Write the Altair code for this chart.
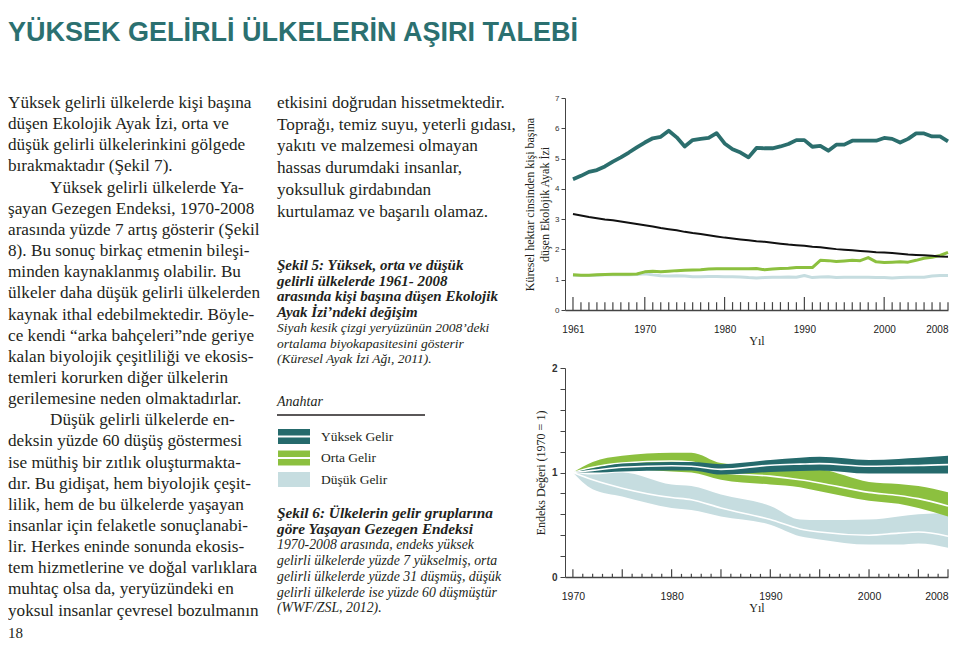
import altair as alt
import pandas as pd

SERIF = "Liberation Serif, Times New Roman, serif"
SANS = "Liberation Sans, Arial, sans-serif"
HEADFONT = "Liberation Sans Narrow, Liberation Sans, Arial, sans-serif"
TEAL = "#256a6c"
TEAL_LINE = "#2b6e6d"
GREEN = "#8cc03f"
PALE = "#c6dde0"
INK = "#231f20"
HEAD = "#2b7070"
AXIS = "#444444"

# ---------------- texts ----------------
heading = "YÜKSEK GELİRLİ ÜLKELERİN AŞIRI TALEBİ"
left_lines = [
    "Yüksek gelirli ülkelerde kişi başına",
    "düşen Ekolojik Ayak İzi, orta ve",
    "düşük gelirli ülkelerinkini gölgede",
    "bırakmaktadır (Şekil 7).",
    "Yüksek gelirli ülkelerde Ya-",
    "şayan Gezegen Endeksi, 1970-2008",
    "arasında yüzde 7 artış gösterir (Şekil",
    "8). Bu sonuç birkaç etmenin bileşi-",
    "minden kaynaklanmış olabilir. Bu",
    "ülkeler daha düşük gelirli ülkelerden",
    "kaynak ithal edebilmektedir. Böyle-",
    "ce kendi “arka bahçeleri”nde geriye",
    "kalan biyolojik çeşitliliği ve ekosis-",
    "temleri korurken diğer ülkelerin",
    "gerilemesine neden olmaktadırlar.",
    "Düşük gelirli ülkelerde en-",
    "deksin yüzde 60 düşüş göstermesi",
    "ise müthiş bir zıtlık oluşturmakta-",
    "dır. Bu gidişat, hem biyolojik çeşit-",
    "lilik, hem de bu ülkelerde yaşayan",
    "insanlar için felaketle sonuçlanabi-",
    "lir. Herkes eninde sonunda ekosis-",
    "tem hizmetlerine ve doğal varlıklara",
    "muhtaç olsa da, yeryüzündeki en",
    "yoksul insanlar çevresel bozulmanın",
]
left_indented = [4, 15]
mid_lines = [
    "etkisini doğrudan hissetmektedir.",
    "Toprağı, temiz suyu, yeterli gıdası,",
    "yakıtı ve malzemesi olmayan",
    "hassas durumdaki insanlar,",
    "yoksulluk girdabından",
    "kurtulamaz ve başarılı olamaz.",
]
cap5_bold = [
    "Şekil 5: Yüksek, orta ve düşük",
    "gelirli ülkelerde 1961- 2008",
    "arasında kişi başına düşen Ekolojik",
    "Ayak İzi’ndeki değişim",
]
cap5_ital = [
    "Siyah kesik çizgi yeryüzünün 2008’deki",
    "ortalama biyokapasitesini gösterir",
    "(Küresel Ayak İzi Ağı, 2011).",
]
key_title = "Anahtar"
legend_labels = ["Yüksek Gelir", "Orta Gelir", "Düşük Gelir"]
legend_colors = [TEAL, GREEN, PALE]
cap6_bold = [
    "Şekil 6: Ülkelerin gelir gruplarına",
    "göre Yaşayan Gezegen Endeksi",
]
cap6_ital = [
    "1970-2008 arasında, endeks yüksek",
    "gelirli ülkelerde yüzde 7 yükselmiş, orta",
    "gelirli ülkelerde yüzde 31 düşmüş, düşük",
    "gelirli ülkelerde ise yüzde 60 düşmüştür",
    "(WWF/ZSL, 2012).",
]
page_no = "18"

# ---------------- chart 1 data (Figure 5) ----------------
years1 = list(range(1961, 2009))
fp_high = [4.32, 4.43, 4.56, 4.62, 4.74, 4.90, 5.04, 5.20, 5.37, 5.53,
           5.67, 5.72, 5.92, 5.70, 5.40, 5.61, 5.65, 5.68, 5.84, 5.50,
           5.31, 5.20, 5.04, 5.35, 5.34, 5.34, 5.40, 5.48, 5.61, 5.61,
           5.39, 5.42, 5.26, 5.46, 5.46, 5.59, 5.59, 5.59, 5.59, 5.68,
           5.65, 5.53, 5.65, 5.83, 5.83, 5.73, 5.73, 5.57]
biocap = [3.17, 3.12, 3.07, 3.03, 2.99, 2.96, 2.92, 2.88, 2.84, 2.80,
          2.76, 2.71, 2.67, 2.63, 2.58, 2.54, 2.51, 2.47, 2.43, 2.39,
          2.36, 2.33, 2.30, 2.27, 2.25, 2.22, 2.19, 2.16, 2.14, 2.12,
          2.09, 2.07, 2.04, 2.01, 1.99, 1.97, 1.95, 1.93, 1.91, 1.90,
          1.88, 1.86, 1.83, 1.82, 1.81, 1.79, 1.77, 1.76]
fp_mid = [1.16, 1.15, 1.15, 1.16, 1.17, 1.18, 1.18, 1.18, 1.19, 1.26,
          1.28, 1.26, 1.28, 1.30, 1.31, 1.32, 1.33, 1.35, 1.36, 1.36,
          1.36, 1.36, 1.36, 1.37, 1.33, 1.35, 1.37, 1.38, 1.40, 1.40,
          1.40, 1.64, 1.63, 1.60, 1.62, 1.64, 1.63, 1.73, 1.59, 1.57,
          1.58, 1.59, 1.58, 1.64, 1.71, 1.74, 1.80, 1.90]
fp_low = [1.15, 1.14, 1.14, 1.15, 1.16, 1.17, 1.16, 1.16, 1.17, 1.20,
          1.16, 1.13, 1.12, 1.13, 1.12, 1.10, 1.10, 1.11, 1.11, 1.10,
          1.10, 1.09, 1.07, 1.06, 1.07, 1.08, 1.08, 1.09, 1.08, 1.14,
          1.07, 1.09, 1.10, 1.07, 1.08, 1.08, 1.08, 1.08, 1.07, 1.07,
          1.06, 1.07, 1.08, 1.08, 1.08, 1.12, 1.14, 1.14]
x1_labels = [1961, 1970, 1980, 1990, 2000, 2008]
x1_major = [1961, 1970, 1980, 1990, 2000]
y1_ticks = [0, 1, 2, 3, 4, 5, 6, 7]

# ---------------- chart 2 data (Figure 6) ----------------
years2 = [1970, 1972, 1975, 1980, 1982, 1985, 1990, 1993, 1995, 2000, 2003, 2005, 2008]
lpi_high = [1.00, 1.02, 1.05, 1.065, 1.06, 1.03, 1.07, 1.08, 1.085, 1.06, 1.065, 1.067, 1.075]
lpi_high_up = [1.00, 1.04, 1.085, 1.10, 1.10, 1.08, 1.12, 1.14, 1.15, 1.12, 1.13, 1.14, 1.16]
lpi_high_lo = [1.00, 1.00, 1.01, 1.02, 1.02, 0.98, 1.005, 1.015, 1.02, 0.99, 0.99, 0.99, 0.99]
lpi_mid = [1.00, 1.05, 1.09, 1.11, 1.10, 1.00, 0.965, 0.93, 0.90, 0.81, 0.78, 0.75, 0.68]
lpi_mid_up = [1.00, 1.10, 1.16, 1.19, 1.19, 1.09, 1.05, 1.04, 1.03, 0.91, 0.89, 0.87, 0.81]
lpi_mid_lo = [1.00, 1.02, 1.03, 1.01, 1.00, 0.93, 0.885, 0.86, 0.82, 0.73, 0.70, 0.66, 0.58]
lpi_low = [1.00, 0.93, 0.85, 0.76, 0.74, 0.66, 0.55, 0.46, 0.43, 0.40, 0.42, 0.43, 0.39]
lpi_low_up = [1.00, 0.98, 1.00, 0.885, 0.87, 0.79, 0.68, 0.55, 0.545, 0.55, 0.58, 0.60, 0.61]
lpi_low_lo = [1.00, 0.84, 0.77, 0.66, 0.64, 0.58, 0.50, 0.39, 0.36, 0.31, 0.31, 0.32, 0.28]
x2_labels = [1970, 1975, 1980, 1985, 1990, 1995, 2000, 2005, 2008]
x2_years = list(range(1970, 2009))
y2_ticks = [round(i * 0.2, 1) for i in range(11)]

dummy = pd.DataFrame({"v": [0]})

# ---------------- text panel ----------------
def text_block(lines, x, y0, dy, size, style="normal", weight="normal",
               color=INK, font=SERIF, indent=None, indent_dx=0):
    df = pd.DataFrame({"t": lines, "i": list(range(len(lines)))})
    ind = indent or []
    return (
        alt.Chart(df)
        .transform_calculate(
            yy=f"{y0} + datum.i * {dy}",
            xx=f"indexof({ind}, datum.i) >= 0 ? {x + indent_dx} : {x}",
        )
        .mark_text(align="left", baseline="alphabetic", font=font, fontSize=size,
                   fontStyle=style, fontWeight=weight, color=color)
        .encode(x=alt.X("xx:Q", scale=None, axis=None),
                y=alt.Y("yy:Q", scale=None, axis=None),
                text="t:N")
    )

layers = [
    text_block([heading], 0, 30, 0, 27, weight="bold", color=HEAD, font=HEADFONT),
    text_block(left_lines, 0, 97, 21.15, 17.2, indent=left_indented, indent_dx=42),
    text_block(mid_lines, 269, 97, 21.7, 17.2),
    text_block(cap5_bold, 269, 259, 15.5, 15, style="italic", weight="bold"),
    text_block(cap5_ital, 269, 259 + 4 * 15.5, 15.5, 13.5, style="italic"),
    text_block([key_title], 269, 395, 0, 14, style="italic"),
    alt.Chart(dummy).mark_rule(color=INK, strokeWidth=1.5).encode(
        x=alt.value(269), x2=alt.value(417), y=alt.value(404)),
    text_block(cap6_bold, 269, 507, 15.7, 15.3, style="italic", weight="bold"),
    text_block(cap6_ital, 269, 507 + 2 * 15.7, 15.7, 13.8, style="italic"),
    text_block([page_no], 0, 627, 0, 15),
]
for k, (lab, col) in enumerate(zip(legend_labels, legend_colors)):
    top = 418 + k * 21.5
    layers.append(alt.Chart(dummy).mark_rect(color=col).encode(
        x=alt.value(270), x2=alt.value(302), y=alt.value(top), y2=alt.value(top + 15)))
    if k < 2:
        layers.append(alt.Chart(dummy).mark_rule(color="white", strokeWidth=2).encode(
            x=alt.value(270), x2=alt.value(302), y=alt.value(top + 7.5)))
layers.append(text_block(legend_labels, 313, 429.5, 21.5, 13.5))

panel = alt.layer(*layers).properties(width=500, height=615)

# ---------------- chart 1 ----------------
df1 = pd.DataFrame({"year": years1, "high": fp_high, "bio": biocap, "mid": fp_mid, "low": fp_low})
xs1 = alt.Scale(domain=[1960, 2008], nice=False, zero=False)
ys1 = alt.Scale(domain=[0, 7], nice=False, zero=True)
xax1 = alt.Axis(values=x1_labels, format="d", ticks=False, labelPadding=14, domainColor=AXIS,
                domainWidth=1.5, labelFont=SANS, labelFontSize=10, labelColor="#222",
                labelFlush=True, title="Yıl", titleFont=SERIF, titleFontSize=12,
                titleFontWeight="normal", titleColor=INK, titlePadding=1, grid=False)
yax1 = alt.Axis(values=y1_ticks, format="d", tickSize=4, tickColor=AXIS, domainColor=AXIS,
                labelFont=SANS, labelFontSize=8, labelColor="#333", labelPadding=2, grid=False,
                title=["Küresel hektar cinsinden kişi başına", "düşen Ekolojik Ayak İzi"],
                titleFont=SERIF, titleFontSize=12, titleFontWeight="normal", titleColor=INK,
                titlePadding=3, titleLineHeight=15)
X1 = alt.X("year:Q", scale=xs1, axis=xax1)

def series1(name, color, width):
    return (alt.Chart(df1).transform_fold(["high", "bio", "mid", "low"], as_=["s", "value"])
            .transform_filter(alt.datum.s == name)
            .mark_line(color=color, strokeWidth=width, strokeJoin="round")
            .encode(x=X1, y=alt.Y("value:Q", scale=ys1, axis=yax1)))

ticks1 = (alt.Chart(pd.DataFrame({"year": years1}))
          .transform_calculate(zero="0", tl=f"indexof({x1_major}, datum.year) >= 0 ? 0.43 : 0.26")
          .mark_rule(color=AXIS, strokeWidth=1.2)
          .encode(x=X1, y=alt.Y("zero:Q", scale=ys1, axis=yax1), y2="tl:Q"))

chart1 = alt.layer(
    ticks1,
    series1("low", PALE, 3),
    series1("mid", GREEN, 3),
    series1("bio", "#111111", 2),
    series1("high", TEAL_LINE, 3.8),
).properties(width=383, height=212)

# ---------------- chart 2 ----------------
df2 = pd.DataFrame({
    "year": years2,
    "high": lpi_high, "high_up": lpi_high_up, "high_lo": lpi_high_lo,
    "mid": lpi_mid, "mid_up": lpi_mid_up, "mid_lo": lpi_mid_lo,
    "low": lpi_low, "low_up": lpi_low_up, "low_lo": lpi_low_lo,
})
xs2 = alt.Scale(domain=[1969.2, 2008], nice=False, zero=False)
ys2 = alt.Scale(domain=[0, 2], nice=False, zero=True)
xax2 = alt.Axis(values=x2_labels, format="d", ticks=False, labelPadding=14, domainColor=AXIS,
                domainWidth=1.5, labelFont=SANS, labelFontSize=10.5, labelColor="#222",
                labelFlush=True, title="Yıl", titleFont=SERIF, titleFontSize=12,
                titleFontWeight="normal", titleColor=INK, titlePadding=1, grid=False)
yax2 = alt.Axis(values=y2_ticks, tickSize=5, tickColor=AXIS, domainColor=AXIS,
                labelExpr="datum.value == 0 || datum.value == 1 || datum.value == 2 ? format(datum.value, 'd') : ''",
                labelFont=SANS, labelFontSize=10, labelFontWeight="bold", labelColor="#333",
                labelPadding=3, grid=False, title="Endeks Değeri (1970 = 1)", titleFont=SERIF,
                titleFontSize=12, titleFontWeight="normal", titleColor=INK, titlePadding=4)
X2 = alt.X("year:Q", scale=xs2, axis=xax2)

def band(name, color):
    a = alt.Chart(df2).mark_area(color=color, interpolate="monotone").encode(
        x=X2, y=alt.Y(f"{name}_lo:Q", scale=ys2, axis=yax2), y2=f"{name}_up:Q")
    l = alt.Chart(df2).mark_line(color="white", strokeWidth=1.6, interpolate="monotone").encode(
        x=X2, y=alt.Y(f"{name}:Q", scale=ys2, axis=yax2))
    return [a, l]

ticks2 = (alt.Chart(pd.DataFrame({"year": x2_years}))
          .transform_calculate(zero="0", tl=f"indexof({x2_labels}, datum.year) >= 0 ? 0.075 : 0.03")
          .mark_rule(color=AXIS, strokeWidth=1.2)
          .encode(x=X2, y=alt.Y("zero:Q", scale=ys2, axis=yax2), y2="tl:Q"))

chart2 = alt.layer(
    ticks2, *band("low", PALE), *band("mid", GREEN), *band("high", TEAL)
).properties(width=383, height=209)

spacer = alt.Chart(dummy).mark_point(opacity=0).encode(
    x=alt.value(0), y=alt.value(0)).properties(width=383, height=29)

right = alt.vconcat(spacer, chart1, chart2, spacing=58, bounds="flush")
chart = (alt.hconcat(panel, right, spacing=57, bounds="flush")
         .properties(padding=0, background="white")
         .configure_view(stroke=None))

chart.save("out.html", embed_options={"renderer": "svg", "actions": False})
